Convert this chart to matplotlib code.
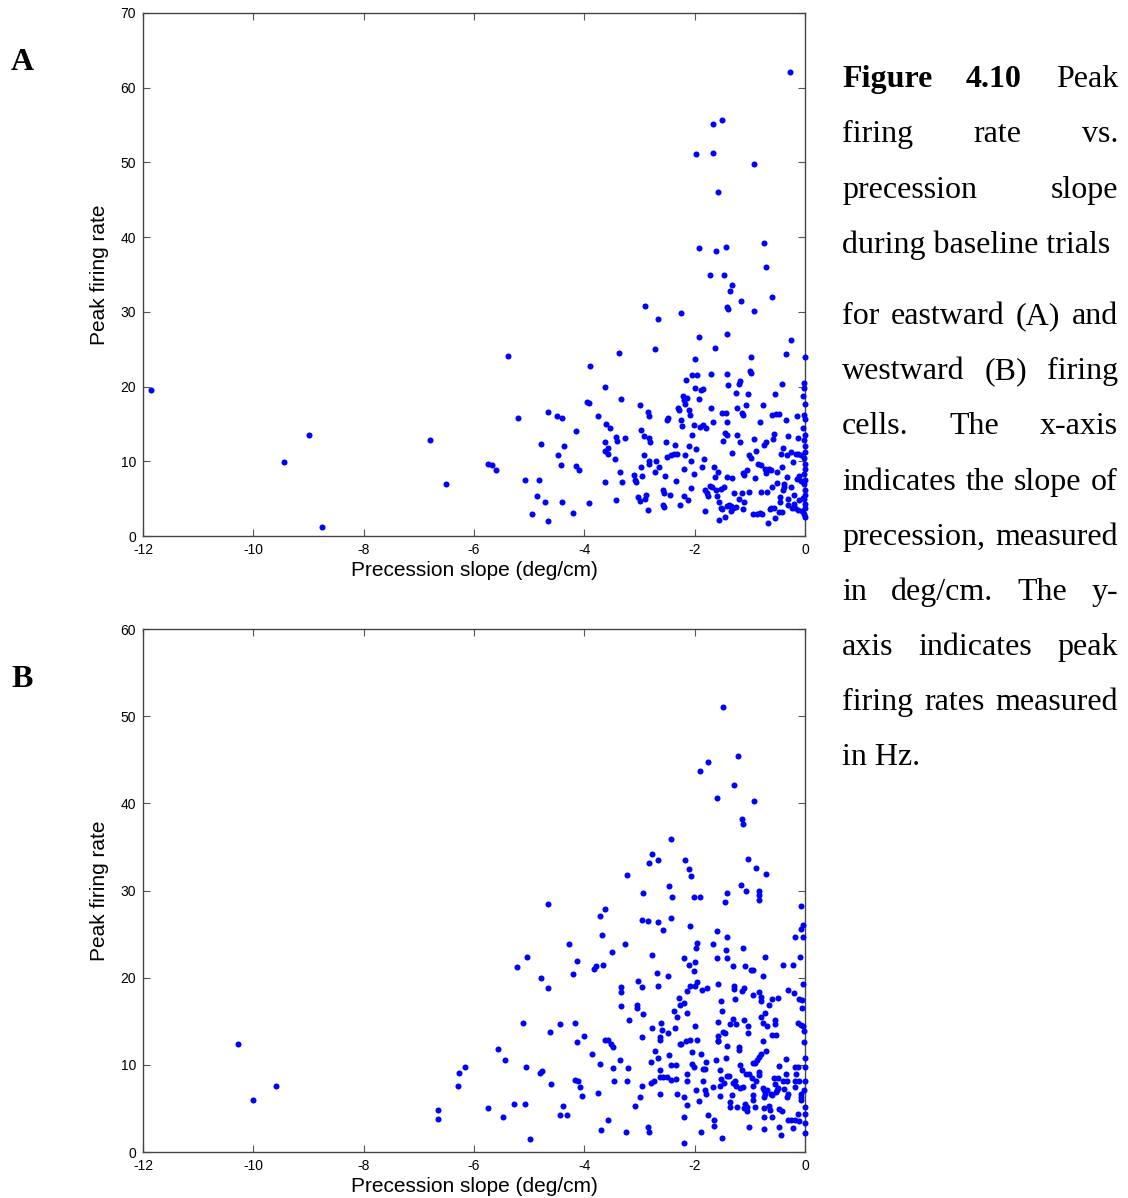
import numpy as np
import matplotlib
matplotlib.use('Agg')
import matplotlib.pyplot as plt

W, H = 1128, 1198

# panel A: eastward firing cells (precession slope deg/cm, peak rate Hz)
a_slope = [
    -11.85, -9.45, -9.0, -8.75, -6.8, -6.5, -5.75, -5.68, -5.6, -5.38,
    -5.2, -5.08, -4.95, -4.85, -4.83, -4.78, -4.72, -4.66, -4.65, -4.5,
    -4.48, -4.42, -4.4, -4.4, -4.36, -4.2, -4.15, -4.15, -4.1, -3.9,
    -3.95, -3.92, -3.92, -3.75, -3.62, -3.62, -3.63, -3.62, -3.6, -3.58,
    -3.58, -3.53, -3.45, -3.43, -3.42, -3.4, -3.37, -3.35, -3.33, -3.32,
    -3.27, -3.1, -3.08, -3.07, -3.02, -3.0, -3.0, -2.98, -2.97, -2.95,
    -2.92, -2.92, -2.9, -2.9, -2.88, -2.85, -2.85, -2.83, -2.83, -2.82,
    -2.82, -2.81, -2.72, -2.72, -2.7, -2.67, -2.65, -2.58, -2.57, -2.55,
    -2.55, -2.53, -2.52, -2.5, -2.5, -2.48, -2.45, -2.42, -2.38, -2.35,
    -2.33, -2.32, -2.3, -2.28, -2.27, -2.25, -2.25, -2.23, -2.22, -2.2,
    -2.2, -2.2, -2.18, -2.17, -2.15, -2.13, -2.12, -2.1, -2.1, -2.08,
    -2.07, -2.07, -2.05, -2.05, -2.02, -2.02, -2.0, -2.0, -1.98, -1.97,
    -1.95, -1.93, -1.92, -1.92, -1.9, -1.88, -1.85, -1.86, -1.85, -1.83,
    -1.82, -1.82, -1.8, -1.78, -1.75, -1.73, -1.72, -1.7, -1.7, -1.68,
    -1.67, -1.66, -1.66, -1.65, -1.63, -1.63, -1.62, -1.62, -1.6, -1.58,
    -1.57, -1.56, -1.55, -1.53, -1.52, -1.5, -1.5, -1.5, -1.48, -1.47,
    -1.46, -1.45, -1.45, -1.44, -1.44, -1.42, -1.42, -1.42, -1.42, -1.41,
    -1.41, -1.41, -1.4, -1.4, -1.38, -1.36, -1.35, -1.33, -1.33, -1.33,
    -1.3, -1.28, -1.25, -1.24, -1.23, -1.2, -1.2, -1.18, -1.17, -1.16,
    -1.15, -1.15, -1.13, -1.12, -1.12, -1.1, -1.1, -1.07, -1.05, -1.03,
    -1.02, -1.02, -1.0, -0.98, -0.98, -0.98, -0.95, -0.93, -0.93, -0.92,
    -0.9, -0.88, -0.87, -0.85, -0.82, -0.82, -0.8, -0.8, -0.78, -0.76,
    -0.75, -0.74, -0.72, -0.71, -0.7, -0.7, -0.69, -0.67, -0.66, -0.64,
    -0.62, -0.6, -0.6, -0.6, -0.58, -0.57, -0.56, -0.55, -0.54, -0.53,
    -0.5, -0.5, -0.48, -0.47, -0.46, -0.45, -0.43, -0.42, -0.42, -0.42,
    -0.4, -0.4, -0.38, -0.38, -0.35, -0.35, -0.33, -0.32, -0.31, -0.3,
    -0.3, -0.28, -0.26, -0.25, -0.25, -0.23, -0.22, -0.2, -0.2, -0.18,
    -0.17, -0.15, -0.14, -0.13, -0.13, -0.12, -0.1, -0.1, -0.08, -0.07,
    -0.06, 0.0, -0.02, -0.01, -0.03, 0.0, -0.02, 0.0, 0.0, -0.02,
    0.0, 0.0, -0.02, 0.0, 0.0, -0.01, 0.0, -0.02, 0.0, 0.0,
    -0.01, 0.0, 0.0, -0.02, 0.0, -0.04, -0.04, -1.35, -1.25, -0.62,
]
a_rate = [
    19.5, 9.9, 13.5, 1.2, 12.8, 7.0, 9.6, 9.5, 8.8, 24.1,
    15.8, 7.5, 3.0, 5.4, 7.5, 12.3, 4.5, 16.6, 2.0, 16.0,
    10.8, 9.5, 4.6, 15.8, 12.1, 3.1, 14.1, 9.4, 8.8, 22.8,
    18.0, 17.8, 4.4, 16.1, 20.0, 12.6, 11.4, 7.2, 15.0, 11.0,
    11.8, 14.5, 10.3, 4.8, 13.3, 12.7, 24.5, 8.6, 18.4, 7.2,
    13.1, 8.1, 7.5, 7.2, 5.2, 4.7, 17.6, 9.2, 14.2, 8.0,
    10.9, 13.4, 30.8, 5.0, 5.5, 16.6, 3.5, 16.0, 9.6, 13.1,
    10.0, 12.6, 25.0, 8.5, 10.1, 29.0, 9.2, 6.1, 4.2, 3.9,
    5.8, 8.0, 12.6, 10.6, 15.5, 15.8, 5.5, 10.9, 11.0, 12.2,
    7.4, 11.0, 17.1, 16.9, 4.2, 15.5, 29.8, 14.7, 18.8, 18.2,
    9.0, 5.3, 10.8, 17.7, 20.9, 18.5, 4.8, 16.8, 12.1, 16.2,
    6.4, 10.1, 21.5, 13.5, 8.3, 14.9, 19.8, 23.7, 11.6, 51.1,
    21.6, 26.6, 38.5, 18.3, 14.6, 19.5, 19.7, 9.3, 14.8, 10.3,
    6.2, 3.4, 14.4, 5.7, 5.4, 6.7, 35.0, 17.1, 21.7, 6.5,
    51.2, 55.1, 15.2, 9.2, 25.1, 7.9, 38.1, 6.1, 5.3, 46.1,
    8.5, 4.6, 2.2, 6.3, 3.8, 55.7, 16.5, 3.6, 12.7, 6.5,
    34.9, 13.8, 2.6, 38.7, 16.4, 30.6, 15.2, 13.5, 4.0, 27.0,
    21.7, 7.9, 30.4, 20.2, 4.1, 32.8, 3.3, 33.6, 11.1, 7.7,
    3.8, 5.8, 19.1, 17.1, 13.5, 4.9, 20.4, 20.7, 12.6, 31.5,
    16.5, 5.7, 8.4, 3.6, 16.2, 4.6, 8.1, 17.6, 8.9, 19.0,
    10.9, 5.9, 22.1, 21.8, 23.9, 10.5, 3.0, 49.8, 13.0, 30.1,
    7.7, 11.4, 3.0, 9.7, 3.1, 15.2, 9.5, 5.9, 3.0, 17.5,
    12.2, 39.2, 9.0, 36.0, 12.6, 8.4, 5.9, 1.8, 9.0, 3.6,
    8.8, 6.5, 16.2, 32.0, 13.0, 13.7, 3.7, 2.4, 19.0, 16.3,
    8.6, 7.1, 16.3, 3.2, 4.6, 5.2, 11.0, 20.4, 3.2, 9.2,
    6.2, 11.8, 6.5, 7.0, 24.3, 15.5, 10.8, 7.9, 13.4, 4.2,
    5.0, 62.1, 26.2, 6.5, 11.2, 3.8, 9.9, 4.3, 5.5, 3.7,
    11.0, 7.6, 16.1, 13.1, 3.5, 11.0, 8.0, 4.8, 7.3, 10.8,
    3.3, 23.9, 20.5, 19.8, 18.8, 17.7, 16.2, 15.6, 13.5, 12.8,
    12.0, 11.2, 10.4, 9.7, 9.0, 8.3, 7.5, 6.9, 6.2, 5.5,
    4.9, 4.3, 3.7, 3.0, 2.6, 14.5, 5.1, 4.0, 3.9, 3.8,
]

# panel B: westward firing cells
b_slope = [
    -1.49, -1.22, -1.75, -1.91, -1.28, -1.60, -0.93, -1.14, -1.13, -2.42,
    -2.77, -2.83, -2.67, -2.18, -2.10, -2.07, -1.04, -0.88, -0.71, -3.22,
    -2.46, -2.41, -2.93, -2.01, -1.91, -1.16, -1.07, -1.42, -1.45, -0.83,
    -0.83, -0.83, -0.08, -4.66, -3.63, -3.71, -2.96, -2.84, -2.67, -2.42,
    -2.58, -2.09, -1.60, -1.67, -1.42, -1.43, -1.41, -1.60, -1.95, -1.98,
    -3.68, -4.27, -5.04, -5.22, -4.13, -4.21, -3.83, -3.78, -3.66, -3.49,
    -3.27, -2.77, -2.68, -2.49, -2.67, -2.20, -2.10, -2.01, -1.99, -1.30,
    -1.12, -1.08, -0.98, -0.95, -0.72, -0.77, -0.39, -0.22, -0.09, -0.18,
    -0.03, -0.08, -0.03, -4.78, -4.66, -3.02, -2.95, -3.34, -3.34, -3.34,
    -3.05, -3.05, -3.19, -2.93, -2.96, -2.77, -2.61, -2.59, -2.62, -2.62,
    -2.49, -2.36, -2.37, -2.32, -2.29, -2.27, -2.20, -2.13, -2.13, -2.08,
    -2.00, -1.96, -1.87, -1.77, -1.57, -1.53, -1.51, -1.57, -1.58, -1.58,
    -1.49, -1.45, -1.41, -1.43, -1.36, -1.30, -1.25, -1.29, -1.29, -1.26,
    -1.15, -1.10, -1.10, -1.04, -1.03, -0.95, -0.84, -0.80, -0.80, -0.76,
    -0.80, -0.72, -0.66, -0.59, -0.49, -0.55, -0.55, -0.69, -0.60, -0.52,
    -0.30, -0.20, -0.10, -0.05, -0.05, -0.12, -0.08, -0.03, -0.02, -0.01,
    0.0, 0.0, 0.0, -0.02, 0.0, 0.0, 0.0, 0.0, -0.03, -5.11,
    -4.44, -4.17, -4.62, -4.01, -4.13, -3.63, -3.57, -3.51, -3.48, -3.87,
    -3.72, -3.48, -3.36, -3.21, -3.47, -3.23, -5.57, -5.43, -5.05, -4.81,
    -4.77, -4.61, -4.17, -4.12, -4.08, -4.05, -3.75, -5.74, -5.48, -5.27,
    -5.08, -4.99, -4.44, -4.39, -4.31, -3.70, -3.57, -3.24, -3.08, -3.00,
    -2.96, -2.84, -2.82, -2.80, -2.79, -2.73, -2.72, -2.67, -2.63, -2.62,
    -2.62, -2.58, -2.51, -2.46, -2.42, -2.42, -2.34, -2.34, -2.32, -2.27,
    -2.24, -2.20, -2.20, -2.20, -2.16, -2.14, -2.14, -2.13, -2.09, -2.05,
    -2.04, -2.01, -2.00, -1.96, -1.97, -1.93, -1.89, -1.88, -1.84, -1.81,
    -1.79, -1.84, -1.82, -1.79, -1.75, -1.65, -1.65, -1.67, -1.62, -1.58,
    -1.54, -1.53, -1.54, -1.54, -1.50, -1.46, -1.41, -1.38, -1.36, -1.36,
    -1.32, -1.30, -1.27, -1.25, -1.24, -1.20, -1.19, -1.18, -1.14, -1.18,
    -1.13, -1.08, -1.11, -1.05, -1.05, -1.02, -1.07, -1.02, -0.96, -0.95,
    -0.94, -0.94, -0.90, -0.94, -0.90, -0.87, -0.84, -0.80, -0.77, -0.70,
    -0.84, -0.83, -0.89, -0.76, -0.74, -0.72, -0.74, -0.69, -0.74, -0.74,
    -0.74, -0.66, -0.64, -0.60, -0.62, -0.60, -0.57, -0.55, -0.53, -0.51,
    -0.49, -0.49, -0.47, -0.47, -0.43, -0.47, -0.42, -0.39, -0.38, -0.35,
    -0.34, -0.33, -0.32, -0.30, -0.30, -0.25, -0.21, -0.19, -0.19, -0.19,
    -0.18, -0.16, -0.12, -0.12, -0.10, -0.10, -0.07, -0.07, -0.07, -10.28,
    -10.0, -9.59, -6.65, -6.66, -6.29, -6.28, -6.16,
]
b_rate = [
    51.0, 45.4, 44.7, 43.7, 42.1, 40.6, 40.3, 38.2, 37.6, 35.9,
    34.2, 33.2, 33.5, 33.5, 32.5, 31.7, 33.6, 32.6, 31.9, 31.8,
    30.5, 29.2, 29.7, 29.3, 29.2, 30.6, 30.0, 29.7, 28.7, 30.0,
    29.5, 28.9, 28.2, 28.4, 27.9, 27.1, 26.6, 26.5, 26.4, 26.9,
    25.5, 25.9, 25.4, 23.9, 24.7, 23.2, 22.3, 22.3, 24.0, 23.4,
    24.9, 23.9, 22.4, 21.2, 21.9, 20.4, 21.0, 21.3, 21.5, 23.0,
    23.9, 22.6, 20.5, 20.2, 19.0, 22.2, 21.5, 20.8, 21.8, 21.3,
    23.4, 21.3, 20.9, 20.9, 22.4, 20.2, 21.5, 21.5, 22.4, 24.7,
    24.7, 25.6, 26.0, 20.0, 18.8, 19.6, 18.9, 18.9, 18.4, 16.7,
    16.9, 16.5, 15.2, 15.8, 13.2, 14.2, 14.8, 14.0, 13.2, 12.8,
    13.6, 14.2, 16.2, 15.5, 17.7, 16.9, 17.1, 16.0, 18.5, 19.0,
    19.1, 19.5, 18.6, 18.8, 19.3, 17.3, 16.2, 14.9, 13.3, 12.7,
    13.8, 13.7, 12.2, 10.8, 14.7, 15.3, 14.7, 19.0, 18.7, 17.6,
    18.5, 18.8, 15.2, 14.5, 13.7, 18.0, 18.4, 17.8, 17.3, 14.8,
    15.5, 16.0, 16.9, 17.6, 17.7, 15.1, 14.7, 14.5, 13.4, 13.4,
    18.6, 18.2, 17.6, 17.4, 16.5, 14.8, 14.6, 14.4, 13.9, 12.6,
    10.8, 9.8, 8.1, 7.1, 5.2, 4.4, 3.3, 2.2, 19.3, 14.8,
    14.7, 14.8, 13.8, 13.3, 12.6, 12.8, 12.9, 12.4, 12.1, 11.2,
    10.1, 9.6, 10.6, 9.6, 8.2, 8.1, 11.8, 10.6, 9.7, 9.1,
    9.3, 7.8, 8.3, 8.2, 7.4, 6.4, 6.8, 5.0, 4.0, 5.5,
    5.5, 1.5, 4.3, 5.3, 4.3, 2.5, 3.7, 2.3, 5.3, 6.3,
    7.6, 2.9, 2.3, 7.9, 10.3, 8.2, 11.6, 10.8, 9.4, 8.6,
    6.7, 8.6, 8.6, 11.1, 10.0, 8.3, 10.0, 8.4, 6.7, 12.4,
    12.4, 6.3, 4.0, 1.0, 12.7, 8.9, 8.1, 5.4, 12.8, 11.5,
    10.1, 9.8, 14.5, 12.9, 7.1, 5.8, 11.2, 2.3, 9.5, 9.5,
    10.3, 8.1, 7.1, 6.6, 4.2, 3.7, 3.0, 7.5, 10.6, 12.7,
    9.4, 8.4, 7.6, 6.4, 1.6, 7.9, 8.7, 8.7, 5.7, 5.2,
    6.5, 7.9, 8.2, 7.6, 5.2, 11.7, 12.0, 10.0, 9.4, 7.3,
    7.5, 5.5, 5.0, 5.2, 4.7, 2.9, 8.9, 9.0, 8.5, 7.6,
    6.5, 6.0, 5.2, 10.2, 10.2, 10.5, 10.9, 11.2, 12.7, 11.6,
    9.2, 8.8, 8.1, 7.3, 7.1, 6.7, 6.3, 7.1, 5.0, 4.0,
    2.6, 5.3, 4.8, 4.0, 6.6, 6.5, 8.5, 7.8, 6.9, 7.1,
    7.3, 8.5, 9.9, 4.9, 2.0, 2.9, 4.7, 8.2, 7.2, 10.7,
    9.0, 8.1, 6.3, 6.6, 3.7, 3.7, 2.8, 3.7, 7.4, 8.1,
    9.8, 9.0, 9.8, 4.4, 8.1, 3.5, 6.6, 6.3, 6.0, 12.4,
    6.0, 7.6, 4.8, 3.8, 7.6, 9.1, 9.7,
]

x_ticks = [-12, -10, -8, -6, -4, -2, 0]
a_yticks = [0, 10, 20, 30, 40, 50, 60, 70]
b_yticks = [0, 10, 20, 30, 40, 50, 60]

# caption lines: (words, number of bold words, justified?, y position in px)
caption = [
    (['Figure', '4.10', 'Peak'], 2, True, 76),
    (['firing', 'rate', 'vs.'], 0, True, 131),
    (['precession', 'slope'], 0, True, 187),
    (['during baseline trials'], 0, False, 242),
    (['for', 'eastward', '(A)', 'and'], 0, True, 313),
    (['westward', '(B)', 'firing'], 0, True, 368),
    (['cells.', 'The', 'x-axis'], 0, True, 423),
    (['indicates', 'the', 'slope', 'of'], 0, True, 479),
    (['precession,', 'measured'], 0, True, 534),
    (['in', 'deg/cm.', 'The', 'y-'], 0, True, 589),
    (['axis', 'indicates', 'peak'], 0, True, 644),
    (['firing', 'rates', 'measured'], 0, True, 699),
    (['in Hz.'], 0, False, 754),
]

plt.rcParams['font.family'] = ['Liberation Sans', 'DejaVu Sans']
plt.rcParams['axes.unicode_minus'] = False

fig = plt.figure(figsize=(W / 100, H / 100), dpi=100)
fig.patch.set_facecolor('white')


def fx(px):
    return px / W


def fy(py):
    return 1 - py / H


def panel(top, xs, ys, yticks):
    ax = fig.add_axes([fx(143), fy(top + 523), fx(662), 523 / H])
    ax.scatter(xs, ys, s=19, color='#0000ff', linewidths=0, clip_on=False, zorder=3)
    ax.set_xlim(-12, 0)
    ax.set_ylim(yticks[0], yticks[-1])
    ax.set_xticks(x_ticks)
    ax.set_yticks(yticks)
    ax.tick_params(direction='in', length=5, width=0.8, color='#555555',
                   top=True, right=True, labelsize=10, pad=5)
    for s in ax.spines.values():
        s.set_color('#444444')
        s.set_linewidth(1.0)
    ax.set_xlabel('Precession slope (deg/cm)', fontsize=15, labelpad=3)
    ax.set_ylabel('Peak firing rate', fontsize=15, labelpad=8)
    return ax


panel(13, a_slope, a_rate, a_yticks)
panel(629, b_slope, b_rate, b_yticks)

fig.text(fx(11), fy(70), 'A', fontsize=23, fontweight='bold', family='Liberation Serif')
fig.text(fx(11), fy(687), 'B', fontsize=23, fontweight='bold', family='Liberation Serif')

# caption, justified between x0 and x1
x0, x1 = 842, 1118
renderer = fig.canvas.get_renderer()
for words, nbold, just, yc in caption:
    base = fy(yc + 11)
    texts = []
    for i, w in enumerate(words):
        t = fig.text(fx(x0), base, w, fontsize=23, family='Liberation Serif',
                     fontweight='bold' if i < nbold else 'normal', va='baseline')
        texts.append(t)
    if not just or len(texts) < 2:
        continue
    widths = [t.get_window_extent(renderer).width for t in texts]
    gap = (x1 - x0 - sum(widths)) / (len(texts) - 1)
    pos = x0
    for t, wd in zip(texts, widths):
        t.set_x(fx(pos))
        pos += wd + gap

fig.savefig('out.png', dpi=100, facecolor='white')
